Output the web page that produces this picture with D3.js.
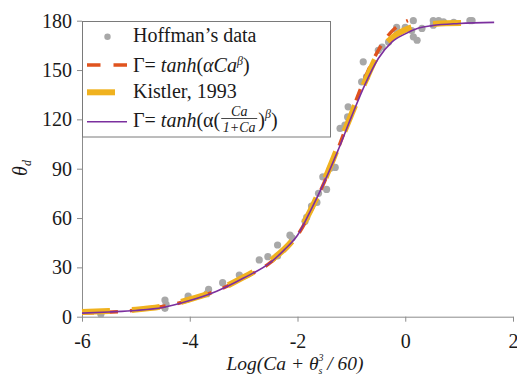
<!DOCTYPE html>
<html>
<head>
<meta charset="utf-8">
<script src="https://cdn.jsdelivr.net/npm/d3@7"></script>
<style>
  body { margin: 0; background: #fff; }
  svg { display: block; font-family: "Liberation Serif", "Times New Roman", serif; }
</style>
</head>
<body>
<div id="chart"></div>
<script>
const xTicks = [-6, -4, -2, 0, 2];
const yTicks = [0, 30, 60, 90, 120, 150, 180];

// Hoffman's data points
const hoffX = [-5.65, -4.46, -4.46, -4.44, -4.03, -4.03, -3.65, -3.68, -3.39, -3.08, -2.71, -2.55, -2.37, -2.37,
  -2.14, -2.1, -1.83, -1.86, -1.74, -1.64, -1.61, -1.46, -1.53, -1.39, -1.3, -1.21, -1.12, -1.06, -1.07,
  -0.81, -0.78, -0.72, -0.5, -0.43, -0.31, -0.16, -0.16, 0, 0.15, 0.15, 0.22, 0.12, 0.31, 0.52, 0.52,
  0.62, 0.71, 0.9, 1.2, 1.24];
const hoffY = [1.5, 10.1, 5.1, 7.5, 12.6, 11, 16.6, 14, 20.7, 25.3, 34.5, 36.5, 36.9, 43.6,
  49.6, 48, 60.4, 58, 67.3, 69.5, 75, 77.4, 85, 90.2, 90.8, 114.5, 116.5, 127.6, 121.5,
  142.8, 155, 145.8, 162, 164, 167, 174.2, 176, 176, 180, 170.2, 168.1, 174, 175.3, 177.3, 180,
  180, 179.3, 179, 180, 180];

// Γ = tanh(αCa^β)
const tanhX = [-6, -5, -4, -3, -2.5, -2, -1.5, -1.25, -1, -0.75, -0.5, -0.25, 0, 0.05];
const tanhY = [2.2, 4, 10, 23.5, 33, 49.5, 82, 102, 124, 145, 162, 173.5, 179.3, 180];

// Kistler, 1993
const kistX = [-6, -5.5, -5, -4.5, -4, -3.5, -3, -2.5, -2, -1.5, -1.25, -1, -0.75, -0.5, -0.25, 0, 0.25, 0.5, 0.75, 1.2];
const kistY = [2.8, 3.4, 4.3, 6.3, 10.5, 16, 24, 34, 50.5, 83, 103, 123, 142.5, 160, 169.5, 174.5, 177, 178, 178.5, 178.7];

// Γ = tanh(α(Ca/(1+Ca))^β)
const fracX = [-6, -5.5, -5, -4.5, -4, -3.5, -3, -2.5, -2.25, -2, -1.75, -1.5, -1.25, -1, -0.75, -0.5, -0.25, 0, 0.25, 0.5, 1, 1.65];
const fracY = [2.2, 2.9, 3.8, 5.6, 9.8, 15.5, 23.5, 33, 40.5, 49.5, 65, 82, 101, 121.5, 141, 157, 167, 172, 175.5, 177, 178.3, 179];

const W = 517, H = 376;
const margin = { top: 20.7, right: 4, bottom: 59.3, left: 82 };

const svg = d3.select("#chart").append("svg")
  .attr("width", W)
  .attr("height", H);

const x = d3.scaleLinear().domain([-6, 2]).range([margin.left, W - margin.right]);
const y = d3.scaleLinear().domain([0, 180]).range([H - margin.bottom, margin.top]);

const axisColor = "#8c8c8c";

const xAxis = svg.append("g")
  .attr("transform", `translate(0,${H - margin.bottom})`)
  .call(d3.axisBottom(x).tickValues(xTicks).tickSize(5).tickSizeOuter(0).tickPadding(12).tickFormat(d3.format("d")));

const yAxis = svg.append("g")
  .attr("transform", `translate(${margin.left},0)`)
  .call(d3.axisLeft(y).tickValues(yTicks).tickSize(5).tickSizeOuter(0).tickPadding(5));

[xAxis, yAxis].forEach(g => {
  g.select(".domain").attr("stroke", axisColor);
  g.selectAll(".tick line").attr("stroke", axisColor);
  g.selectAll(".tick text")
    .attr("fill", "#1a1a1a")
    .style("font-size", "20px")
    .style("font-family", "Liberation Serif, serif");
});
xAxis.selectAll(".tick text").text(d => d < 0 ? "-" + Math.abs(d) : d);

// axis titles
const xLab = svg.append("text")
  .attr("x", 295)
  .attr("y", 370)
  .attr("text-anchor", "middle")
  .attr("font-style", "italic")
  .style("font-size", "19.5px")
  .attr("fill", "#1a1a1a");
xLab.append("tspan").text("Log(Ca + θ");
xLab.append("tspan").style("font-size", "10px").attr("dy", -9).text("3");
xLab.append("tspan").style("font-size", "10px").attr("dx", -5).attr("dy", 13).text("s");
xLab.append("tspan").attr("dy", -4).text(" / 60)");

const yLab = svg.append("text")
  .attr("transform", "translate(27,168) rotate(-90)")
  .attr("text-anchor", "middle")
  .attr("font-style", "italic")
  .style("font-size", "20px")
  .attr("fill", "#1a1a1a");
yLab.append("tspan").text("θ");
yLab.append("tspan").style("font-size", "12px").attr("dy", 4).text("d");

// data
const line = d3.line().x(d => x(d[0])).y(d => y(d[1])).curve(d3.curveMonotoneX);

svg.append("g")
  .selectAll("circle")
  .data(d3.zip(hoffX, hoffY))
  .join("circle")
    .attr("cx", d => x(d[0]))
    .attr("cy", d => y(d[1]))
    .attr("r", 3.6)
    .attr("fill", "#a8a8a8");

svg.append("path")
  .datum(d3.zip(tanhX, tanhY))
  .attr("d", line)
  .attr("fill", "none")
  .attr("stroke", "#e0531e")
  .attr("stroke-width", 3.5)
  .attr("stroke-dasharray", "12,12");

svg.append("path")
  .datum(d3.zip(kistX, kistY))
  .attr("d", line)
  .attr("fill", "none")
  .attr("stroke", "#f0b21f")
  .attr("stroke-width", 6)
  .attr("stroke-dasharray", "28,22");

svg.append("path")
  .datum(d3.zip(fracX, fracY))
  .attr("d", line)
  .attr("fill", "none")
  .attr("stroke", "#7b2f9e")
  .attr("stroke-width", 1.6);

// legend
const legend = svg.append("g");
legend.append("rect")
  .attr("x", 82.5).attr("y", 21.5)
  .attr("width", 248).attr("height", 115.5)
  .attr("fill", "#fff")
  .attr("stroke", "#7a7a7a");

const rows = [36.7, 65, 92.3, 121.7];
const textX = 133;

legend.append("circle").attr("cx", 107.5).attr("cy", rows[0]).attr("r", 3.2).attr("fill", "#a8a8a8");
legend.append("line").attr("x1", 87).attr("x2", 127).attr("y1", rows[1]).attr("y2", rows[1])
  .attr("stroke", "#e0531e").attr("stroke-width", 3.5).attr("stroke-dasharray", "13.5,13");
legend.append("line").attr("x1", 87).attr("x2", 115).attr("y1", rows[2]).attr("y2", rows[2])
  .attr("stroke", "#f0b21f").attr("stroke-width", 6);
legend.append("line").attr("x1", 87).attr("x2", 127).attr("y1", rows[3]).attr("y2", rows[3])
  .attr("stroke", "#7b2f9e").attr("stroke-width", 1.6);

const lt = (yy) => legend.append("text").attr("x", textX).attr("y", yy)
  .style("font-size", "20px").attr("fill", "#1a1a1a");

lt(42).text("Hoffman’s data");

const t2 = lt(72);
t2.append("tspan").text("Γ= ");
t2.append("tspan").attr("font-style", "italic").text("tanh");
t2.append("tspan").text("(");
t2.append("tspan").attr("font-style", "italic").text("αCa");
t2.append("tspan").attr("font-style", "italic").style("font-size", "12px").attr("dy", -7).text("β");
t2.append("tspan").attr("dy", 7).text(")");

lt(98).text("Kistler, 1993");

const t4 = lt(127);
t4.append("tspan").text("Γ= ");
t4.append("tspan").attr("font-style", "italic").text("tanh");
t4.append("tspan").text("(α(");
const fx = textX + t4.node().getComputedTextLength() + 1;
const barW = 36;
legend.append("text").attr("x", fx + barW / 2).attr("y", 116).attr("text-anchor", "middle")
  .attr("font-style", "italic").style("font-size", "14px").attr("fill", "#1a1a1a").text("Ca");
legend.append("text").attr("x", fx + barW / 2).attr("y", 132).attr("text-anchor", "middle")
  .attr("font-style", "italic").style("font-size", "14px").attr("fill", "#1a1a1a").text("1+Ca");
legend.append("line").attr("x1", fx).attr("x2", fx + barW).attr("y1", 118.5).attr("y2", 118.5)
  .attr("stroke", "#1a1a1a").attr("stroke-width", 0.8);
const t4b = lt(127).attr("x", fx + barW + 1);
t4b.append("tspan").text(")");
t4b.append("tspan").attr("font-style", "italic").style("font-size", "12px").attr("dy", -9).text("β");
t4b.append("tspan").attr("dy", 9).text(")");
</script>
</body>
</html>
